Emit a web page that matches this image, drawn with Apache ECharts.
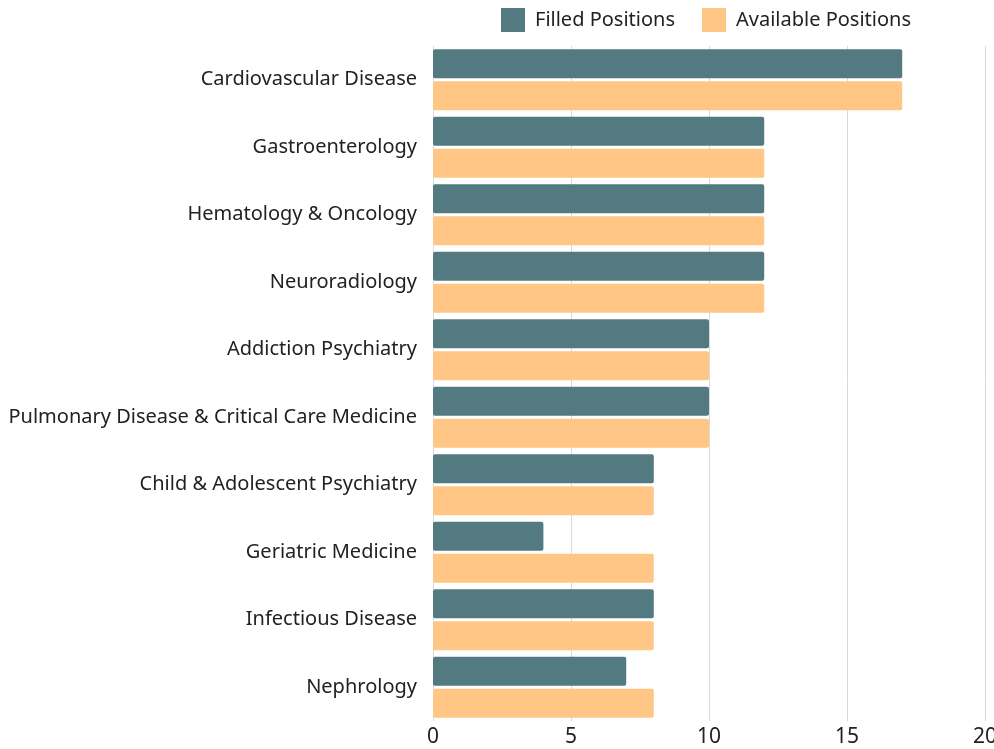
<!DOCTYPE html>
<html>
<head>
<meta charset="utf-8">
<style>html,body{margin:0;padding:0;background:#fff;}#c{width:994px;height:749px;}</style>
<script src="https://cdn.jsdelivr.net/npm/echarts@6/dist/echarts.min.js"></script>
</head>
<body>
<div id="c"></div>
<script>
var categories = ["Cardiovascular Disease","Gastroenterology","Hematology & Oncology","Neuroradiology","Addiction Psychiatry","Pulmonary Disease & Critical Care Medicine","Child & Adolescent Psychiatry","Geriatric Medicine","Infectious Disease","Nephrology"];
var filled = [17,12,12,12,10,10,8,4,8,7];
var available = [17,12,12,12,10,10,8,8,8,8];
var xTicks = [0,5,10,15,20];

var FONT = "Noto Sans";
var chart = echarts.init(document.getElementById('c'), null, {renderer:'canvas'});
chart.setOption({
  animation:false,
  textStyle:{fontFamily:FONT},
  legend:{
    top:3, left:496, itemWidth:24, itemHeight:24, itemGap:27,
    icon:'rect',
    textStyle:{fontFamily:FONT, fontSize:20, color:'#222', padding:[0,0,0,5]},
    data:['Filled Positions','Available Positions']
  },
  grid:{left:433, right:9, top:46, bottom:28, containLabel:false, outerBoundsMode:'none'},
  xAxis:{
    type:'value', min:xTicks[0], max:xTicks[xTicks.length-1], interval:5,
    axisLine:{show:false}, axisTick:{show:false},
    splitLine:{show:true, lineStyle:{color:'#d9d9d9', width:1}},
    axisLabel:{fontFamily:FONT, fontSize:21, color:'#222', margin:6, showMaxLabel:true}
  },
  yAxis:{
    type:'category', inverse:true, data:categories,
    axisLine:{show:false}, axisTick:{show:false},
    axisLabel:{fontFamily:FONT, fontSize:20, color:'#222', margin:16}
  },
  series:[
    {name:'Filled Positions', type:'bar', data:filled, barWidth:29, barGap:'10%',
     itemStyle:{color:'#537a80', borderRadius:2}},
    {name:'Available Positions', type:'bar', data:available, barWidth:29, barGap:'10%',
     itemStyle:{color:'#ffc685', borderRadius:2}}
  ]
});
</script>
</body>
</html>
